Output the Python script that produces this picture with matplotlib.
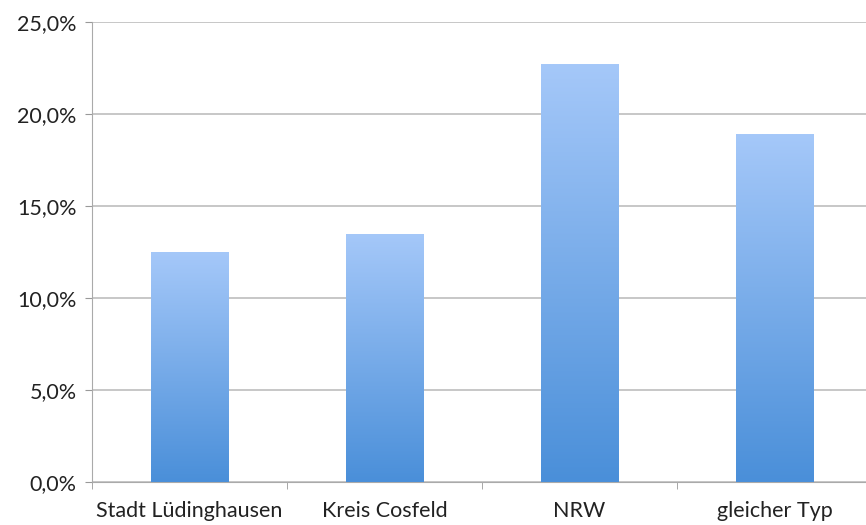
import matplotlib
matplotlib.use("Agg")
import matplotlib.pyplot as plt
import numpy as np
from matplotlib.colors import LinearSegmentedColormap
from matplotlib.ticker import FuncFormatter

categories = ["Stadt Lüdinghausen", "Kreis Cosfeld", "NRW", "gleicher Typ"]
values = [12.5, 13.5, 22.7, 18.9]

plt.rcParams['font.family'] = ['Lato', 'DejaVu Sans']

fig = plt.figure(figsize=(8.66, 5.25), dpi=100)
# right edge of the plot runs slightly past the image, as in the original
ax = fig.add_axes([92 / 866, 43 / 525, 780 / 866, 460 / 525])

x = np.arange(len(categories))
bars = ax.bar(x, values, width=0.4, color='none', edgecolor='none', zorder=3)

grad = LinearSegmentedColormap.from_list('bluegrad', ['#4a8fd9', '#a5c8f9'])
g = np.linspace(0, 1, 256).reshape(-1, 1)
for b in bars:
    x0, y0 = b.get_x(), b.get_y()
    w, h = b.get_width(), b.get_height()
    im = ax.imshow(g, cmap=grad, origin='lower', aspect='auto',
                   extent=[x0, x0 + w, y0, y0 + h], zorder=3)
    im.set_clip_path(b)

ax.set_xlim(-0.5, 3.5)
ax.set_ylim(0, 25)
ax.set_yticks(np.arange(0, 26, 5))
ax.yaxis.set_major_formatter(FuncFormatter(lambda v, p: f"{v:.1f}".replace('.', ',') + '%'))
ax.set_xticks(x)
ax.set_xticklabels(categories, fontsize=15.5)
ax.set_xticks(np.arange(-0.5, 4, 1), minor=True)
ax.tick_params(axis='x', which='major', length=0, pad=14)
ax.tick_params(axis='x', which='minor', length=5, color='#999999')
ax.tick_params(axis='y', length=5, color='#999999', pad=6, labelsize=15.5)
ax.tick_params(labelcolor='#222222')

ax.grid(axis='y', color='#bdbdbd', linewidth=1.2, zorder=0)
for s in ['top', 'right']:
    ax.spines[s].set_visible(False)
ax.spines['left'].set_color('#aaaaaa')
ax.spines['bottom'].set_color('#aaaaaa')
ax.set_axisbelow(True)

fig.savefig("out.png", dpi=100)
